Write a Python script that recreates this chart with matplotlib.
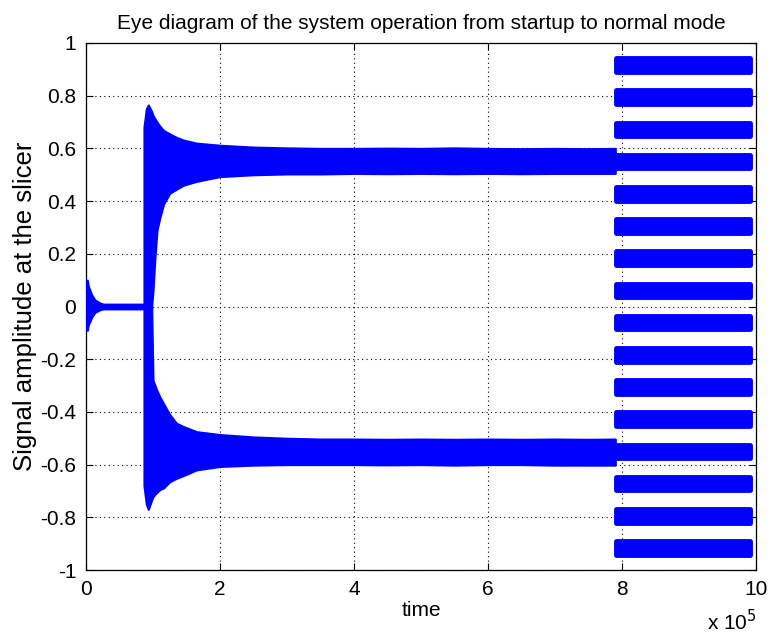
import matplotlib
matplotlib.use("Agg")
import matplotlib.pyplot as plt

plt.rcParams['font.family'] = ['Liberation Sans', 'DejaVu Sans']

# ---- data (time in units of 1e5) ----
startup_x = [0.0, 0.02, 0.035, 0.085, 0.134, 0.21, 0.26, 0.50, 0.87]
startup_top = [0.10, 0.10, 0.077, 0.044, 0.025, 0.013, 0.009, 0.009, 0.009]
startup_bot = [-0.09, -0.09, -0.070, -0.040, -0.022, -0.012, -0.009, -0.009, -0.009]

trans_x = [0.865, 0.90, 0.93, 0.98, 1.00, 1.03, 1.06, 1.10, 1.16, 1.25, 1.35, 1.45,
           1.65, 2.0, 2.5, 3.0, 3.5, 4.0, 4.5, 5.0, 5.5, 6.0, 6.5, 7.0, 7.5, 7.9]
upper_top = [0.68, 0.75, 0.765, 0.74, 0.725, 0.712, 0.70, 0.685, 0.668, 0.655, 0.642, 0.632,
             0.62, 0.612, 0.605, 0.602, 0.600, 0.600, 0.601, 0.600, 0.602, 0.600, 0.599, 0.600, 0.599, 0.600]
upper_bot = [0.0, 0.0, 0.0, 0.0, 0.06, 0.19, 0.29, 0.335, 0.39, 0.43, 0.445, 0.46,
             0.475, 0.493, 0.500, 0.503, 0.503, 0.505, 0.504, 0.505, 0.504, 0.505, 0.504, 0.505, 0.505, 0.505]
lower_top = [0.0, 0.0, 0.0, 0.0, -0.28, -0.30, -0.32, -0.342, -0.37, -0.41, -0.443, -0.455,
             -0.475, -0.486, -0.495, -0.500, -0.503, -0.503, -0.504, -0.503, -0.504, -0.503, -0.504, -0.503, -0.504, -0.503]
lower_bot = [-0.68, -0.75, -0.77, -0.734, -0.722, -0.712, -0.705, -0.695, -0.688, -0.665, -0.652, -0.642,
             -0.62, -0.607, -0.602, -0.600, -0.600, -0.600, -0.601, -0.600, -0.602, -0.600, -0.600, -0.602, -0.602, -0.602]

levels = [0.917, 0.794, 0.672, 0.550, 0.428, 0.306, 0.183, 0.061,
          -0.061, -0.183, -0.306, -0.428, -0.550, -0.672, -0.794, -0.917]
level_half_width = 0.035
level_x = [7.87, 9.94]

xticks = [0, 2, 4, 6, 8, 10]
yticks = [-1, -0.8, -0.6, -0.4, -0.2, 0, 0.2, 0.4, 0.6, 0.8, 1]
ytick_labels = ['-1', '-0.8', '-0.6', '-0.4', '-0.2', '0', '0.2', '0.4', '0.6', '0.8', '1']

# ---- figure ----
W, H, DPI = 770, 635, 100
fig = plt.figure(figsize=(W / DPI, H / DPI), dpi=DPI)
ax = fig.add_axes([86 / W, 1 - 570 / H, 670 / W, 527 / H])
blue = (0, 0, 1)
kw = dict(facecolor=blue, edgecolor=blue, linewidth=1.5, joinstyle='round', zorder=3)

ax.set_xlim(0, 10)
ax.set_ylim(-1, 1)

ax.fill_between(startup_x, startup_bot, startup_top, **kw)
ax.fill_between(trans_x, upper_bot, upper_top, **kw)
ax.fill_between(trans_x, lower_bot, lower_top, **kw)

# level bands: rectangles with slightly rounded corners (thick round-joined edge)
edge_pt = 3.5
edge_px = edge_pt * DPI / 72.0
dy = (edge_px / 2) / (527 / 2.0)
dx = (edge_px / 2) / (670 / 10.0)
for lv in levels:
    ax.fill_between([level_x[0] + dx, level_x[1] - dx],
                    [lv - level_half_width + dy] * 2, [lv + level_half_width - dy] * 2,
                    facecolor=blue, edgecolor=blue, linewidth=edge_pt,
                    joinstyle='round', zorder=3)

ax.set_xticks(xticks)
ax.set_xticklabels([str(t) for t in xticks])
ax.set_yticks(yticks)
ax.set_yticklabels(ytick_labels)
ax.tick_params(direction='in', length=5, width=0.8, top=True, right=True,
               labelsize=15, pad=7, colors='black')
ax.grid(True, linestyle=(0, (1, 3)), color='black', linewidth=0.8)
ax.set_axisbelow(True)
for s in ax.spines.values():
    s.set_linewidth(0.9)

ax.set_title('Eye diagram of the system operation from startup to normal mode',
             fontsize=15, pad=10)
ax.set_xlabel('time', fontsize=15, labelpad=2)
ax.set_ylabel('Signal amplitude at the slicer', fontsize=18.5, labelpad=2)
fig.text(757 / W, 1 - 622 / H, r'x 10$^{5}$', fontsize=15, ha='right', va='center')

fig.savefig('out.png', dpi=DPI)
